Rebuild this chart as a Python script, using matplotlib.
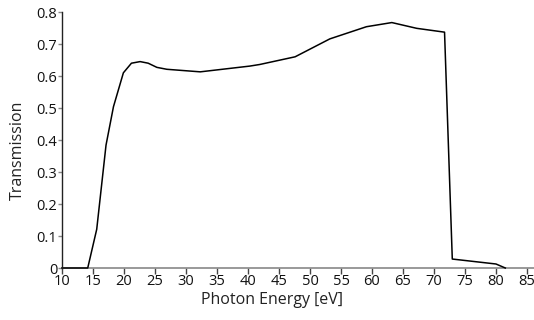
import matplotlib
matplotlib.use("Agg")
import matplotlib.pyplot as plt
from matplotlib.ticker import FuncFormatter

# Transmission spectrum of the filter
energy_ev = [10.0, 14.15, 15.6, 17.1, 18.3, 19.9, 21.2, 22.6, 23.9, 25.3, 26.9,
             32.3, 40.3, 41.9, 47.6, 53.2, 59.1, 63.2, 67.2, 71.7, 72.95, 80.0, 81.5]
transmission = [0.0, 0.0, 0.121, 0.384, 0.504, 0.61, 0.64, 0.645, 0.64, 0.627, 0.621,
                0.613, 0.631, 0.636, 0.66, 0.716, 0.754, 0.767, 0.749, 0.737, 0.028, 0.0125, 0.0]

x_ticks = list(range(10, 90, 5))
y_ticks = [0, 0.1, 0.2, 0.3, 0.4, 0.5, 0.6, 0.7, 0.8]

plt.rcParams['font.family'] = ['Open Sans', 'DejaVu Sans']

W, H = 534, 320
fig = plt.figure(figsize=(W / 100, H / 100), dpi=100)
ax = fig.add_axes([62 / W, 1 - 268 / H, 1 - 62 / W, 256 / H])

ax.plot(energy_ev, transmission, color='black', linewidth=1.1, clip_on=False, zorder=5)

ax.set_xlim(10, 10 + (W - 62) / 6.2)
ax.set_ylim(0, 0.8)
ax.set_xticks(x_ticks)
ax.set_yticks(y_ticks)
ax.yaxis.set_major_formatter(FuncFormatter(lambda v, p: f"{v:g}"))

for side in ('top', 'right'):
    ax.spines[side].set_visible(False)
ax.spines['left'].set_color('#222222')
ax.spines['left'].set_linewidth(1.0)
ax.spines['bottom'].set_color('#888888')
ax.spines['bottom'].set_linewidth(1.2)

ax.tick_params(axis='x', direction='out', length=4, width=1, color='#444444',
               labelsize=10.5, pad=0.5, labelcolor='#111111')
ax.tick_params(axis='y', direction='out', length=3, width=1, color='#888888',
               labelsize=10.5, pad=0.5, labelcolor='#111111')
for lbl in ax.get_xticklabels():
    lbl.set_clip_on(False)

ax.set_xlabel('Photon Energy [eV]', fontsize=11.5, color='#222222')
ax.set_ylabel('Transmission', fontsize=11.5, color='#222222')
# place axis titles by figure pixel position (measured from the top-left corner)
ax.xaxis.set_label_coords(272 / W, 1 - 300 / H, transform=fig.transFigure)
ax.yaxis.set_label_coords(18 / W, 1 - 150 / H, transform=fig.transFigure)
ax.xaxis.label.set_va('center')
ax.yaxis.label.set_va('center')

fig.savefig('out.png', dpi=100)
